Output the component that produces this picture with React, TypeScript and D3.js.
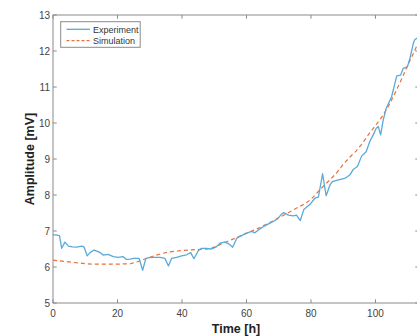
import React from "react";
import * as d3 from "d3";

const expT = [0, 1, 2, 2.7, 3.7, 4.8, 6, 7.3, 8.9, 9.6, 10.6, 11.5, 12.7, 13.6, 14.6, 15.6, 17.1, 18.7, 20.2, 21.7, 22.8, 24, 24.9, 26.7, 27.8, 28.8, 30, 31.1, 33.2, 34.7, 35.8, 36.8, 38.3, 39.9, 41.4, 42.7, 43.7, 45.1, 46.1, 47.5, 49.2, 50.5, 51.8, 53.3, 54.4, 55.7, 57, 58.5, 60.1, 61.6, 62.6, 64.2, 65.2, 67.3, 69.4, 70.9, 71.6, 73, 74.5, 75.5, 76.7, 77.8, 79.7, 81.2, 82.3, 83.6, 84.7, 85.9, 86.6, 88.5, 90.5, 92.1, 93.1, 94.4, 95.7, 97.1, 98.3, 99.3, 100.2, 100.9, 101.6, 102.4, 103.3, 105, 106.6, 107.8, 108.6, 109.9, 110.7, 111.7, 112.2, 113, 114];
const expV = [6.89, 6.89, 6.87, 6.52, 6.69, 6.58, 6.56, 6.55, 6.58, 6.56, 6.31, 6.4, 6.47, 6.44, 6.4, 6.33, 6.35, 6.29, 6.27, 6.29, 6.21, 6.22, 6.24, 6.24, 5.91, 6.24, 6.26, 6.27, 6.27, 6.24, 6.03, 6.24, 6.27, 6.31, 6.34, 6.4, 6.23, 6.46, 6.52, 6.52, 6.5, 6.55, 6.66, 6.69, 6.65, 6.55, 6.8, 6.87, 6.94, 6.99, 6.95, 7.06, 7.12, 7.22, 7.32, 7.47, 7.51, 7.44, 7.42, 7.44, 7.29, 7.6, 7.74, 7.91, 7.94, 8.59, 7.98, 8.28, 8.37, 8.42, 8.46, 8.56, 8.71, 8.79, 9.08, 9.2, 9.5, 9.67, 9.85, 9.9, 9.67, 10.08, 10.4, 10.73, 11.31, 11.33, 11.52, 11.56, 11.8, 12.2, 12.32, 12.36, 12.4];

const simT = [0, 4, 8, 12, 16, 20, 24, 26, 28, 30, 32, 34, 36, 40, 44, 48, 50, 52, 54, 56, 58, 60, 62, 64, 66, 68, 70, 72, 74, 76, 78, 80, 82, 84, 86, 88, 90, 92, 94, 96, 98, 100, 102, 104, 106, 108, 110, 112, 114];
const simV = [6.19, 6.15, 6.11, 6.08, 6.08, 6.08, 6.09, 6.14, 6.21, 6.27, 6.33, 6.38, 6.42, 6.46, 6.48, 6.5, 6.55, 6.63, 6.71, 6.78, 6.86, 6.94, 7.01, 7.09, 7.18, 7.27, 7.37, 7.46, 7.56, 7.66, 7.75, 7.88, 8.07, 8.26, 8.43, 8.62, 8.85, 9.05, 9.22, 9.44, 9.7, 9.93, 10.17, 10.46, 10.82, 11.2, 11.6, 11.98, 12.38];

const xTicks = [0, 20, 40, 60, 80, 100];
const yTicks = [5, 6, 7, 8, 9, 10, 11, 12, 13];
const seriesNames = ["Experiment", "Simulation"];

const W = 417, H = 336;
const L = 53, R = 419, T = 15, B = 303;
const FONT = "'Liberation Sans', Arial, sans-serif";
const AX = "#8a8a8a";
const TXT = "#444";
const BLUE = "#5aa9db";
const ORANGE = "#e8703a";

export default function App() {
  const x = d3.scaleLinear().domain([0, 113.5]).range([L, R]);
  const y = d3.scaleLinear().domain([5, 13]).range([B, T]);
  const line = d3.line<[number, number]>().x(d => x(d[0])).y(d => y(d[1]));
  const expPath = line(expT.map((t, i) => [t, expV[i]] as [number, number])) || "";
  const simPath = line(simT.map((t, i) => [t, simV[i]] as [number, number])) || "";
  const tl = 3.7;
  return (
    <svg width={W} height={H} style={{ position: "absolute", left: 0, top: 0, background: "#fff" }}>
      <defs>
        <clipPath id="plotclip">
          <rect x={L} y={T} width={R - L} height={B - T} />
        </clipPath>
      </defs>
      <rect x={0} y={0} width={W} height={H} fill="#fff" />
      <g clipPath="url(#plotclip)" fill="none">
        <path d={simPath} stroke={ORANGE} strokeWidth={1.2} strokeDasharray="4,3" />
        <path d={expPath} stroke={BLUE} strokeWidth={1.3} strokeLinejoin="round" />
      </g>
      {/* box */}
      <rect x={L} y={T} width={R - L} height={B - T} fill="none" stroke={AX} strokeWidth={1} />
      {xTicks.map(t => (
        <g key={"x" + t}>
          <line x1={x(t)} x2={x(t)} y1={B} y2={B - tl} stroke={AX} />
          <line x1={x(t)} x2={x(t)} y1={T} y2={T + tl} stroke={AX} />
          <text x={x(t)} y={317} fontSize={10} fontFamily={FONT} fill={TXT} textAnchor="middle">{t}</text>
        </g>
      ))}
      {yTicks.map(v => (
        <g key={"y" + v}>
          <line x1={L} x2={L + tl} y1={y(v)} y2={y(v)} stroke={AX} />
          <line x1={R} x2={R - tl} y1={y(v)} y2={y(v)} stroke={AX} />
          <text x={L - 3} y={y(v) + 3.5} fontSize={10} fontFamily={FONT} fill={TXT} textAnchor="end">{v}</text>
        </g>
      ))}
      <text x={(L + R) / 2} y={333} fontSize={12.5} fontWeight="bold" fontFamily={FONT} fill="#222" textAnchor="middle">Time [h]</text>
      <text transform={`translate(34,${(T + B) / 2}) rotate(-90)`} fontSize={12.5} fontWeight="bold" fontFamily={FONT} fill="#222" textAnchor="middle">Amplitude [mV]</text>
      {/* legend */}
      <rect x={60.7} y={21.7} width={79.5} height={25.6} fill="#fff" stroke={AX} strokeWidth={1} />
      <line x1={66.5} x2={90} y1={29.3} y2={29.3} stroke={BLUE} strokeWidth={1.3} />
      <line x1={66.5} x2={90} y1={40.7} y2={40.7} stroke={ORANGE} strokeWidth={1.2} strokeDasharray="3,2" />
      <text x={93} y={32.5} fontSize={9} fontFamily={FONT} fill="#333">{seriesNames[0]}</text>
      <text x={93} y={43.9} fontSize={9} fontFamily={FONT} fill="#333">{seriesNames[1]}</text>
    </svg>
  );
}
